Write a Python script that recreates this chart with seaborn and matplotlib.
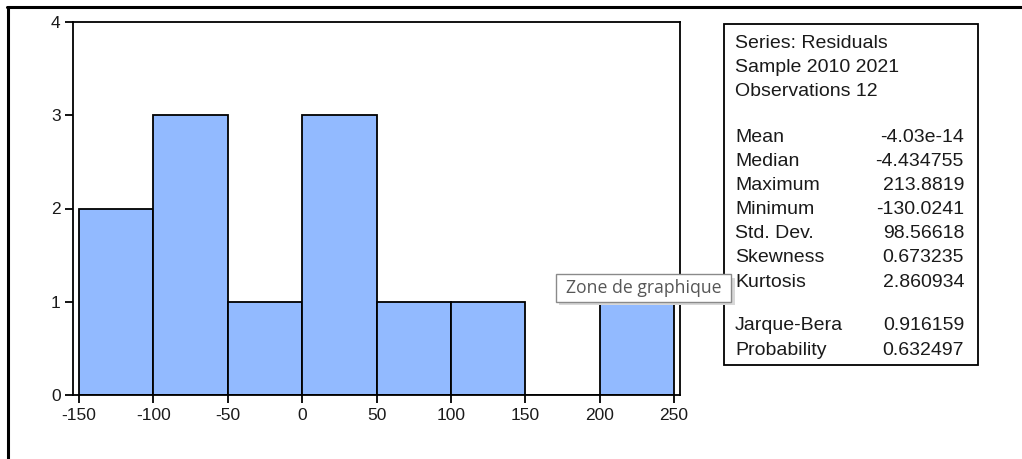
import matplotlib
matplotlib.use("Agg")
import matplotlib.pyplot as plt
import seaborn as sns
import numpy as np
from matplotlib.patches import Rectangle
from matplotlib.lines import Line2D

# ---- data ----
bin_edges = [-150, -100, -50, 0, 50, 100, 150, 200, 250]
counts = [2, 3, 1, 3, 1, 1, 0, 1]
x_ticks = [-150, -100, -50, 0, 50, 100, 150, 200, 250]
y_ticks = [0, 1, 2, 3, 4]

stats_header = ["Series: Residuals", "Sample 2010 2021", "Observations 12"]
stat_names = ["Mean", "Median", "Maximum", "Minimum", "Std. Dev.", "Skewness", "Kurtosis"]
stat_values = ["-4.03e-14", "-4.434755", "213.8819", "-130.0241", "98.56618", "0.673235", "2.860934"]
test_names = ["Jarque-Bera", "Probability"]
test_values = ["0.916159", "0.632497"]
tooltip_text = "Zone de graphique"

sns.set_style("white")
plt.rcParams['font.family'] = ['Liberation Sans', 'DejaVu Sans']
plt.rcParams['axes.unicode_minus'] = False

W, H = 1022, 459
fig = plt.figure(figsize=(W / 100, H / 100), dpi=100)

def fx(px):
    return px / W

def fy(py):
    return 1 - py / H

ax = fig.add_axes([fx(73), fy(395), fx(680) - fx(73), fy(22) - fy(395)])

centers = [(a + b) / 2 for a, b in zip(bin_edges[:-1], bin_edges[1:])]
sns.histplot(x=centers, weights=counts, bins=bin_edges, ax=ax,
             color="#92BAFF", edgecolor="black", linewidth=1.3, alpha=1.0)

ax.set_xlim(-154, 254)
ax.set_ylim(0, 4)
ax.set_xticks(x_ticks)
ax.set_yticks(y_ticks)
ax.set_xlabel("")
ax.set_ylabel("")
for s in ax.spines.values():
    s.set_visible(True)
    s.set_color("black")
    s.set_linewidth(1.3)
ax.tick_params(axis="both", direction="out", length=6, width=1.3, color="black",
               labelsize=12.5, labelcolor="#1a1a1a", pad=3,
               bottom=True, left=True, top=False, right=False)

# ---- outer frame ----
fig.add_artist(Line2D([fx(7), 1], [fy(7), fy(7)], color="black", lw=2.2, transform=fig.transFigure))
fig.add_artist(Line2D([fx(7.5), fx(7.5)], [fy(7), 0], color="black", lw=2.2, transform=fig.transFigure))

# ---- stats box ----
fig.add_artist(Rectangle((fx(724), fy(365)), fx(978) - fx(724), fy(24) - fy(365),
                         transform=fig.transFigure, fill=False, edgecolor="black", lw=1.3))
fs = 14
lx, rx = fx(735), fx(964)
ys = [44, 68, 92]
for t, y in zip(stats_header, ys):
    fig.text(lx, fy(y), t, fontsize=fs, va="center", ha="left", color="#1a1a1a")
for i, (n, v) in enumerate(zip(stat_names, stat_values)):
    y = 137 + i * 24.2
    fig.text(lx, fy(y), n, fontsize=fs, va="center", ha="left", color="#1a1a1a")
    fig.text(rx, fy(y), v, fontsize=fs, va="center", ha="right", color="#1a1a1a")
for i, (n, v) in enumerate(zip(test_names, test_values)):
    y = 326 + i * 24.2
    fig.text(lx, fy(y), n, fontsize=fs, va="center", ha="left", color="#1a1a1a")
    fig.text(rx, fy(y), v, fontsize=fs, va="center", ha="right", color="#1a1a1a")

# ---- tooltip ----
fig.add_artist(Rectangle((fx(559), fy(305)), fx(732) - fx(556), fy(275) - fy(302),
                         transform=fig.transFigure, facecolor="#d8d8d8", edgecolor="none", zorder=9))
fig.add_artist(Rectangle((fx(556), fy(302)), fx(731) - fx(556), fy(274) - fy(302),
                         transform=fig.transFigure, facecolor="white", edgecolor="#8a8a8a", lw=1, zorder=10))
fig.text(fx(566), fy(288), tooltip_text, fontsize=12.7, va="center", ha="left",
         color="#575757", zorder=11, family=["Open Sans", "DejaVu Sans"])

fig.savefig("out.png", dpi=100)
